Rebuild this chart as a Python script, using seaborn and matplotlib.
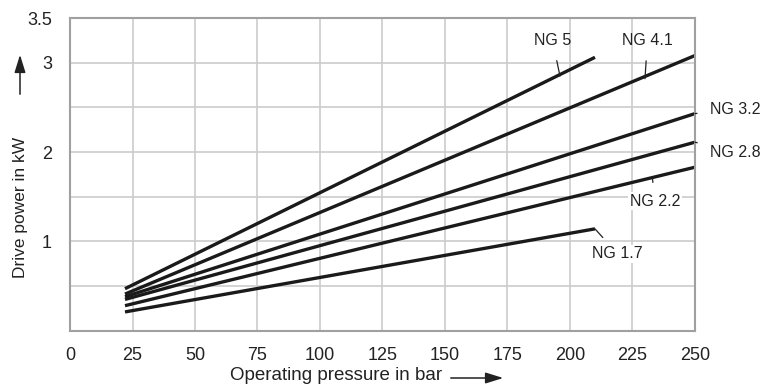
import matplotlib
matplotlib.use("Agg")
import matplotlib.pyplot as plt
import seaborn as sns
import pandas as pd

# ---- data ----
series = ["NG 5", "NG 4.1", "NG 3.2", "NG 2.8", "NG 2.2", "NG 1.7"]
x_start = [22, 22, 22, 22, 22, 22]
x_end = [210, 250, 250, 250, 250, 210]
y_start = [0.47, 0.41, 0.38, 0.35, 0.28, 0.21]
y_end = [3.06, 3.08, 2.43, 2.11, 1.83, 1.14]
x_ticks = [0, 25, 50, 75, 100, 125, 150, 175, 200, 225, 250]
y_ticks = [1, 2, 3, 3.5]
y_grid = [0.5, 1, 1.5, 2, 2.5, 3]

rows = []
for s, xs, xe, ys, ye in zip(series, x_start, x_end, y_start, y_end):
    rows.append({"series": s, "p": xs, "kw": ys})
    rows.append({"series": s, "p": xe, "kw": ye})
df = pd.DataFrame(rows)

sns.set_theme(style="white")
plt.rcParams["font.family"] = ["Liberation Sans", "DejaVu Sans"]

fig = plt.figure(figsize=(7.71, 3.88), dpi=100)
ax = fig.add_axes([0.0908, 0.1477, 0.9014 - 0.0908, 0.9536 - 0.1477])

sns.lineplot(data=df, x="p", y="kw", units="series", estimator=None,
             color="#1a1a1a", linewidth=2.4, ax=ax, legend=False,
             solid_capstyle="butt")

ax.set_xlim(0, 250)
ax.set_ylim(0, 3.5)
ax.set_xticks(x_ticks)
ax.set_yticks(y_ticks)
ax.set_yticklabels([f"{v:g}" for v in y_ticks])
for v in y_grid:
    ax.axhline(v, color="#cccccc", linewidth=1.2, zorder=0)
for v in x_ticks[1:-1]:
    ax.axvline(v, color="#cccccc", linewidth=1.2, zorder=0)
ax.grid(False)
for sp in ax.spines.values():
    sp.set_color("#a0a0a0")
    sp.set_linewidth(1.5)
ax.tick_params(axis="both", length=0, labelsize=13, colors="#222222")
ax.tick_params(axis="y", pad=13)
ax.tick_params(axis="x", pad=12)
ax.set_xlabel("")
ax.set_ylabel("")

# axis titles with arrows
fig.text(336 / 771, 1 - 376 / 388, "Operating pressure in bar", ha="center",
         va="center", fontsize=13.5, color="#222222")
fig.patches.append(matplotlib.patches.FancyArrowPatch(
    (448 / 771, 1 - 378 / 388), (506 / 771, 1 - 378 / 388),
    transform=fig.transFigure, arrowstyle="-|>,head_length=0.9,head_width=0.28",
    color="#222222", linewidth=1.1, mutation_scale=12))
fig.text(21 / 771, 1 - 207 / 388, "Drive power in kW", ha="center",
         va="center", rotation=90, fontsize=12.5, color="#222222")
fig.patches.append(matplotlib.patches.FancyArrowPatch(
    (20 / 771, 1 - 97 / 388), (20 / 771, 1 - 52 / 388),
    transform=fig.transFigure, arrowstyle="-|>,head_length=0.9,head_width=0.28",
    color="#222222", linewidth=1.1, mutation_scale=12))

# labels with leader lines: (text position, leader start on line)
lab = {
    "NG 5": ((193, 3.25), (196, 2.85), "center"),
    "NG 4.1": ((231, 3.25), (230, 2.82), "center"),
    "NG 3.2": ((256, 2.48), (250, 2.43), "left"),
    "NG 2.8": ((256, 2.0), (250, 2.11), "left"),
    "NG 2.2": ((234, 1.45), (233, 1.70), "center"),
    "NG 1.7": ((219, 0.86), (210, 1.14), "center"),
}
for s in series:
    (tx, ty), (lx, ly), ha = lab[s]
    bbox = dict(boxstyle="square,pad=0.1", fc="white", ec="none") if s in ("NG 2.2", "NG 1.7") else None
    ax.annotate(s, xy=(lx, ly), xytext=(tx, ty), ha=ha, va="center",
                fontsize=11.5, color="#222222", annotation_clip=False,
                bbox=bbox,
                arrowprops=dict(arrowstyle="-", color="#222222", lw=0.9,
                                shrinkA=7, shrinkB=0))

fig.savefig("out.png", dpi=100)
